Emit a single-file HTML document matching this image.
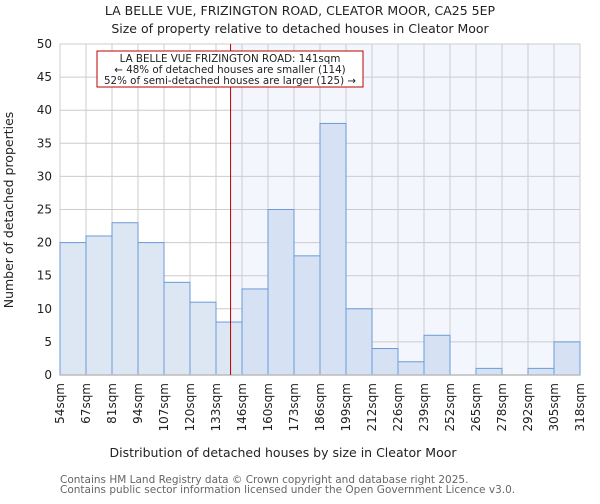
<!DOCTYPE html>
<html><head><meta charset="utf-8"><style>
body{margin:0;background:#fff;font-family:"DejaVu Sans","Liberation Sans",sans-serif;}
svg text{font-family:"DejaVu Sans","Liberation Sans",sans-serif;}
</style></head><body>
<svg id="chart" width="600" height="500" xmlns="http://www.w3.org/2000/svg">
<text x="300" y="15" text-anchor="middle" font-size="12.5" fill="#222">LA BELLE VUE, FRIZINGTON ROAD, CLEATOR MOOR, CA25 5EP</text>
<text x="300" y="33" text-anchor="middle" font-size="12.5" fill="#222">Size of property relative to detached houses in Cleator Moor</text>
<g id="grid"></g><g id="bars"></g><g id="axes"></g>
<text x="283" y="457" text-anchor="middle" font-size="12.5" fill="#222">Distribution of detached houses by size in Cleator Moor</text>
<text transform="translate(13,210) rotate(-90)" text-anchor="middle" font-size="12.5" fill="#222">Number of detached properties</text>
<text x="60" y="483" font-size="10.5" fill="#666">Contains HM Land Registry data © Crown copyright and database right 2025.</text>
<text x="60" y="493" font-size="10.5" fill="#666">Contains public sector information licensed under the Open Government Licence v3.0.</text>
</svg>
<script>
const binLabels=["54sqm","67sqm","81sqm","94sqm","107sqm","120sqm","133sqm","146sqm","160sqm","173sqm","186sqm","199sqm","212sqm","226sqm","239sqm","252sqm","265sqm","278sqm","292sqm","305sqm","318sqm"];
const counts=[20,21,23,20,14,11,8,13,25,18,38,10,4,2,6,0,1,0,1,5];
const yTicks=[0,5,10,15,20,25,30,35,40,45,50];
const markerIndex=6.56;
const NS="http://www.w3.org/2000/svg";
const L=60,R=580,T=44,B=375,yMax=50;
const bw=(R-L)/counts.length;
const x=i=>L+i*bw, y=v=>B-(B-T)*v/yMax;
function mk(t,a,p){const e=document.createElementNS(NS,t);for(const k in a)e.setAttribute(k,a[k]);p.appendChild(e);return e;}
const grid=document.getElementById('grid'),bars=document.getElementById('bars'),axes=document.getElementById('axes');
const mx=x(markerIndex);
const bg=mk('rect',{x:mx,y:T,width:R-mx,height:B-T,fill:'#f3f6fd'},grid);


yTicks.forEach(v=>{
  const l=mk('line',{x1:L,x2:R,y1:y(v),y2:y(v),stroke:'#ccc','stroke-width':1},grid);
  
  
  const t=mk('text',{x:L-8,y:y(v)+4,'text-anchor':'end','font-size':12,fill:'#222'},axes);
  t.textContent=v;
  
  
});
binLabels.forEach((s,i)=>{
  const l=mk('line',{x1:x(i),x2:x(i),y1:T,y2:B,stroke:'#ccc','stroke-width':1},grid);
  
  
  const t=mk('text',{transform:`translate(${x(i)+4},${B+8}) rotate(-90)`,'text-anchor':'end','font-size':12,fill:'#222'},axes);
  t.textContent=s;
  
  
});
counts.forEach((v,i)=>{
  const r=mk('rect',{x:x(i),y:y(v),width:bw,height:B-y(v),fill:i<markerIndex?'#dde6f3':'#d6e1f3',stroke:'#6a9bd8','stroke-width':1},bars);
  
  
});
const ax=mk('line',{x1:L,x2:R,y1:B,y2:B,stroke:'#bbb','stroke-width':1.5},axes);


const ml=mk('line',{x1:mx,x2:mx,y1:T,y2:B,stroke:'#b00','stroke-width':1},axes);


const g=mk('g',{},axes);


mk('rect',{x:97,y:51,width:266,height:36,fill:'#fff',stroke:'#b00','stroke-width':1},g);
["LA BELLE VUE FRIZINGTON ROAD: 141sqm","← 48% of detached houses are smaller (114)","52% of semi-detached houses are larger (125) →"].forEach((s,i)=>{
  const t=mk('text',{x:230,y:62+i*11,'text-anchor':'middle','font-size':10.3,fill:'#222'},g);
  t.textContent=s;
  
  
});
</script>
</body></html>
